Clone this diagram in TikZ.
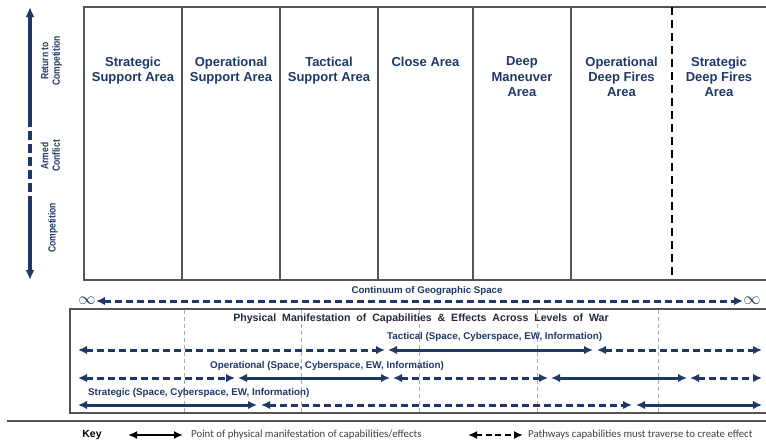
\documentclass[tikz,border=0pt]{standalone}
\usepackage{fontspec}
\setmainfont{Liberation Sans}
\newfontfamily\keyfont{Carlito}
\usetikzlibrary{arrows.meta}
\definecolor{navy}{RGB}{31,56,100}
\definecolor{darknavy}{RGB}{32,42,64}
\definecolor{boxgray}{RGB}{85,85,85}
\definecolor{keygray}{RGB}{64,64,64}
\definecolor{guidegray}{RGB}{170,170,170}
\tikzset{
  colhead/.style={anchor=north, inner sep=0pt, align=center, text=navy,
    font=\fontsize{13}{15.4}\selectfont\bfseries},
  sidelabel/.style={rotate=90, inner sep=0pt, text=navy,
    font=\fontsize{10.4}{11}\selectfont\bfseries},
  lvllabel/.style={anchor=west, inner sep=0pt, text=navy,
    font=\fontsize{9.8}{11}\selectfont\bfseries},
  frame/.style={draw=boxgray, line width=2.5pt},
  navyhead/.style={{Latex[length=9pt,width=8.5pt]}-{Latex[length=9pt,width=8.5pt]}},
  solidarw/.style={navy, line width=3pt, navyhead},
  dasharw/.style={navy, line width=3pt, navyhead, dash pattern=on 7pt off 4pt},
  guide/.style={draw=guidegray, line width=0.9pt, dash pattern=on 4pt off 3pt},
  keytext/.style={anchor=west, inner sep=0pt, text=keygray,
    font=\keyfont\fontsize{10.8}{12}\selectfont},
}
\newcommand{\narrowtwo}[2]{\scalebox{0.82}[1]{\begin{tabular}{@{}c@{}}#1\\[0.5pt]#2\end{tabular}}}
\begin{document}
\begin{tikzpicture}[x=1pt,y=-1pt]
\useasboundingbox (0,0) rectangle (766,442);

% ---------- top frame ----------
\coordinate (tl) at (84,7);
\coordinate (bl) at (84,280);
\coordinate (tr) at (770,7);
\coordinate (br) at (770,280);
\draw[frame] (tr) -- (tl) -- (bl) -- (br);
\foreach \x/\n in {182/d1,280/d2,378/d3,473/d4,571/d5}{
  \coordinate (\n t) at (\x,7);
  \coordinate (\n b) at (\x,280);
  \draw[frame] (\n t) -- (\n b);
}
\coordinate (d6t) at (672,7);
\coordinate (d6b) at (672,280);
\draw[black, line width=2.2pt, dash pattern=on 8pt off 5pt] (d6t) -- (d6b);

\node[colhead] (c1) at (133,56.5) {Strategic\\Support Area};
\node[colhead] (c2) at (231,56.5) {Operational\\Support Area};
\node[colhead] (c3) at (329,56.5) {Tactical\\Support Area};
\node[colhead] (c4) at (425.5,56.5) {Close Area};
\node[colhead] (c5) at (522,56.5) {Deep\\Maneuver\\Area};
\node[colhead] (c6) at (621.5,56.5) {Operational\\Deep Fires\\Area};
\node[colhead] (c7) at (719,56.5) {Strategic\\Deep Fires\\Area};

% ---------- left vertical arrow ----------
\coordinate (va) at (30,7);
\coordinate (vb) at (30,118);
\coordinate (vc) at (30,197);
\coordinate (vd) at (30,280);
\draw[navy, line width=3.3pt, {Latex[length=10pt,width=9pt]}-] (va) -- (vb);
\draw[navy, line width=3.3pt, dash pattern=on 9pt off 4pt] (vb) -- (vc);
\draw[navy, line width=3.3pt, -{Latex[length=10pt,width=9pt]}] (vc) -- (vd);
\node[sidelabel] (s1) at (52,61) {\narrowtwo{Return to}{Competition}};
\node[sidelabel] (s2) at (52,156) {\narrowtwo{Armed}{Conflict}};
\node[sidelabel] (s3) at (53,228) {\scalebox{0.82}[1]{Competition}};

% ---------- continuum ----------
\node[inner sep=0pt, text=navy, font=\fontsize{9.7}{11}\selectfont\bfseries] (cont) at (427,291.5) {Continuum of Geographic Space};
\node[inner sep=0pt, text=navy, font=\fontsize{17}{17}\selectfont] (infl) at (87,301) {$\infty$};
\node[inner sep=0pt, text=navy, font=\fontsize{17}{17}\selectfont] (infr) at (752,301) {$\infty$};
\coordinate (ca) at (96,301);
\coordinate (cb) at (743,301);
\draw[dasharw] (ca) -- (cb);

% ---------- lower frame ----------
\coordinate (ltr) at (770,309);
\coordinate (ltl) at (70,309);
\coordinate (lbl) at (70,413);
\coordinate (lbr) at (770,413);
\draw[draw=boxgray, line width=2.2pt] (ltr) -- (ltl) -- (lbl) -- (lbr);
\foreach \x/\n in {184/g1,301/g2,419/g3,537/g4,658/g5}{
  \coordinate (\n t) at (\x,310);
  \coordinate (\n b) at (\x,412);
  \draw[guide] (\n t) -- (\n b);
}

\node[inner sep=0pt, text=darknavy, font=\fontsize{10.6}{12}\selectfont\bfseries] (title) at (421,319) {Physical\ \ Manifestation\ \ of\ \ Capabilities\ \ \&\ \ Effects\ \ Across\ \ Levels\ \ of\ \ War};

% Tactical
\node[lvllabel] (tl1) at (387,337) {Tactical (Space, Cyberspace, EW, Information)};
\foreach \x/\n in {78/A,385/B,388/C,593/D,597/E,762/F}{\coordinate (t\n) at (\x,350);}
\draw[dasharw] (tA) -- (tB);
\draw[solidarw] (tC) -- (tD);
\draw[dasharw] (tE) -- (tF);

% Operational
\node[lvllabel] (ol1) at (210,366) {Operational (Space, Cyberspace, EW, Information)};
\foreach \x/\n in {78/A,235/B,238/C,390/D,393/E,548/F,551/G,687/H,690/I,762/J}{\coordinate (o\n) at (\x,378);}
\draw[dasharw] (oA) -- (oB);
\draw[solidarw] (oC) -- (oD);
\draw[dasharw] (oE) -- (oF);
\draw[solidarw] (oG) -- (oH);
\draw[dasharw] (oI) -- (oJ);

% Strategic
\node[lvllabel] (sl1) at (88,393) {Strategic (Space, Cyberspace, EW, Information)};
\foreach \x/\n in {78/A,257/B,261/C,632/D,636/E,762/F}{\coordinate (s\n) at (\x,405);}
\draw[solidarw] (sA) -- (sB);
\draw[dasharw] (sC) -- (sD);
\draw[solidarw] (sE) -- (sF);

% ---------- key ----------
\coordinate (kl) at (7,421);
\coordinate (kr) at (770,421);
\draw[draw=boxgray, line width=1.5pt] (kl) -- (kr);
\node[inner sep=0pt, text=black, font=\fontsize{10.5}{12}\selectfont\bfseries] (key) at (92,435) {Key};
\coordinate (k1a) at (128,435);
\coordinate (k1b) at (183,435);
\draw[black, line width=2.4pt, {Latex[length=9pt,width=8pt]}-{Latex[length=9pt,width=8pt]}] (k1a) -- (k1b);
\node[keytext] (kt1) at (191,435) {Point of physical manifestation of capabilities/effects};
\coordinate (k2a) at (468,435);
\coordinate (k2b) at (523,435);
\draw[black, line width=2.4pt, dash pattern=on 6pt off 3.5pt, {Latex[length=9pt,width=8pt]}-{Latex[length=9pt,width=8pt]}] (k2a) -- (k2b);
\node[keytext] (kt2) at (528,435) {Pathways capabilities must traverse\ to create\ effect};
\end{tikzpicture}
\end{document}
